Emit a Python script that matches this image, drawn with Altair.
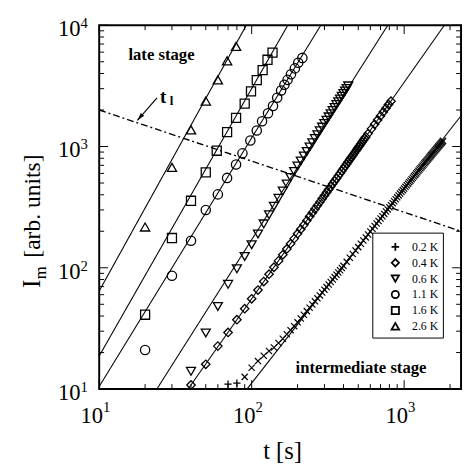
import altair as alt
import pandas as pd

W, H = 369, 371
FONT = "Liberation Serif, Times New Roman, serif"

x_domain = [10, 2361]
y_domain = [10, 10000]

# ---------------- data ----------------
s26_t = [20, 30, 40, 50, 60, 69, 79]
s26_I = [217, 673, 1371, 2372, 3546, 5090, 6700]

s16_t = [20, 30, 40, 50, 59, 69, 79, 90, 99, 108, 118, 127, 137]
s16_I = [41, 176, 357, 613, 923, 1315, 1722, 2256, 2846, 3527, 4272, 5192, 5937]

s11_t = [20, 30, 40, 50, 60, 69, 79, 87, 98, 108, 117, 128, 138, 147, 156, 164, 172, 181, 192, 202, 215]
s11_I = [21, 86, 167, 300, 403, 551, 711, 878, 1122, 1357, 1614, 1883, 2161, 2523, 2891, 3231, 3545, 3944, 4409, 4901, 5380]

s06_t = [40, 50, 60, 70, 80, 90, 100, 110, 120, 130, 140, 150, 160, 170, 180, 190, 200,
         210, 220, 230, 240, 250, 260, 270, 280, 290, 300, 310, 320, 330, 340, 350, 360,
         370, 380, 390, 400, 410, 420, 430]
s06_I = [14, 29, 48, 73, 98, 124, 155, 190, 230, 274, 322, 374, 430, 490, 556, 622, 690,
         760, 834, 910, 990, 1074, 1162, 1252, 1346, 1444, 1544, 1648, 1754, 1865, 1979, 2096, 2216,
         2340, 2466, 2598, 2732, 2870, 3010, 3160]

s04_t = [40, 50, 60, 70, 80, 90, 100, 110, 120, 130, 140, 150, 160, 170, 180, 190, 200,
         210, 220, 230, 240, 250, 260, 270, 280, 290, 300, 310, 320, 330, 340, 350, 360,
         370, 380, 390, 400, 410, 420, 430, 440, 450, 460, 470, 480, 490, 500, 510, 520,
         530, 540, 550, 560, 580, 610, 640, 670, 700, 730, 760, 790, 820]
s04_I = [10.8, 16, 22.6, 29.3, 37.3, 46, 55.5, 65.5, 77, 88.5, 101, 114, 128, 143, 158, 174, 191,
         208, 226, 245, 265, 285, 305, 326, 348, 371, 394, 418, 442, 467, 493, 519, 545,
         573, 601, 629, 658, 688, 718, 749, 781, 812, 845, 878, 912, 946, 981, 1016, 1052,
         1088, 1125, 1163, 1200, 1278, 1398, 1524, 1654, 1788, 1927, 2070, 2218, 2365]

s02_t = [70, 80, 90, 100, 110, 120, 130, 140, 150, 160, 170, 180, 190, 200, 210, 220, 230,
         240, 250, 260, 270, 280, 290, 300, 310, 320, 330, 340, 350, 360, 370, 380, 390, 400,
         420, 440, 460, 480, 500, 520, 540, 560, 580, 600, 620, 640, 660, 680, 700, 720,
         740, 760, 780, 800, 820, 840, 860, 880, 900, 920, 940, 960, 980, 1000,
         1020, 1040, 1060, 1080, 1100, 1120, 1140, 1160, 1180, 1200, 1220, 1240, 1260, 1280,
         1300, 1320, 1340, 1360, 1380, 1400, 1420, 1440, 1460, 1480, 1500, 1520, 1540, 1560,
         1580, 1600, 1620, 1640, 1660, 1680, 1700, 1720, 1740, 1760, 1780, 1800]
s02_I = [11.0, 11.2, 12.6, 15.0, 17.0, 18.8, 20.6, 22.0, 24.0, 26.0, 28.3, 30.6, 33.0, 35.5, 38.2, 41.0, 43.9,
         46.8, 49.8, 52.9, 56.0, 59.2, 62.5, 66.0, 69.3, 72.8, 76.4, 80.0, 83.8, 87.6, 91.5, 95.5, 99.6, 103.8,
         112, 121, 130, 139, 148, 158, 168, 178, 188, 199, 210, 221, 232, 243, 255, 266,
         278, 291, 303, 316, 328, 341, 354, 367, 381, 395, 409, 423, 437, 451,
         465, 479, 494, 508, 523, 538, 553, 568, 583, 599, 614, 630, 646, 662,
         678, 694, 711, 727, 744, 760, 777, 794, 811, 828, 845, 862, 879, 897,
         914, 932, 950, 967, 985, 1003, 1021, 1040, 1058, 1076, 1095, 1114]

# power-law fit lines (end points)
fit_names = ["0.2 K", "0.4 K", "0.6 K", "1.1 K", "1.6 K", "2.6 K"]
fit_t0 = [93.1, 38.3, 23.9, 10, 10, 10]
fit_I0 = [10, 10, 10, 10.5, 18.7, 64.4]
fit_t1 = [2361, 1835, 781, 284, 172.5, 92.2]
fit_I1 = [1794, 10000, 10000, 10000, 10000, 10000]

# t_l boundary line
tl_t = [10, 2361]
tl_I = [2000, 200]

# arrow of the t_l annotation (tail, tip)
arrow_t = [23.95, 17.8]
arrow_I = [2522, 1644]

# axes
x_major = [10, 100, 1000]
x_minor = [20, 30, 40, 50, 60, 70, 80, 90, 200, 300, 400, 500, 600, 700, 800, 900, 2000]
y_major = [10, 100, 1000, 10000]
y_minor = [20, 30, 40, 50, 60, 70, 80, 90, 200, 300, 400, 500, 600, 700, 800, 900,
           2000, 3000, 4000, 5000, 6000, 7000, 8000, 9000]
x_lab_v = [10, 100, 1000]
x_lab_e = ["1", "2", "3"]
y_lab_v = [10, 100, 1000, 10000]
y_lab_e = ["1", "2", "3", "4"]

PLUS = "M-1,0L1,0M0,-1L0,1"
CROSS = "M-1,-1L1,1M-1,1L1,-1"
legend_labels = ["0.2 K", "0.4 K", "0.6 K", "1.1 K", "1.6 K", "2.6 K"]
legend_shapes = [PLUS, "diamond", "triangle-down", "circle", "square", "triangle-up"]
legend_sizes = [60, 55, 55, 55, 55, 60]

# ---------------- chart ----------------
xs = alt.Scale(type="log", domain=x_domain, nice=False)
ys = alt.Scale(type="log", domain=y_domain, nice=False)


def X(f="t"):
    return alt.X(f"{f}:Q", scale=xs, axis=None)


def Y(f="I"):
    return alt.Y(f"{f}:Q", scale=ys, axis=None)


one = alt.Data(values=[{}])
layers = []

# fit lines
fit_rows = []
for n, a, b, c, d in zip(fit_names, fit_t0, fit_I0, fit_t1, fit_I1):
    fit_rows.append({"s": n, "t": a, "I": b})
    fit_rows.append({"s": n, "t": c, "I": d})
layers.append(alt.Chart(pd.DataFrame(fit_rows)).mark_line(color="black", strokeWidth=1.1).encode(
    x=X(), y=Y(), detail="s:N"))

# t_l line
layers.append(alt.Chart(pd.DataFrame({"t": tl_t, "I": tl_I})).mark_line(
    color="black", strokeWidth=1.4, strokeDash=[7, 3, 2, 3]).encode(x=X(), y=Y()))


def pts(t, I, shape, size, sw=1.3):
    return alt.Chart(pd.DataFrame({"t": t, "I": I})).mark_point(
        shape=shape, filled=False, size=size, color="black", strokeWidth=sw, opacity=1
    ).encode(x=X(), y=Y())


layers.append(pts(s02_t[:2], s02_I[:2], PLUS, 55))
layers.append(pts(s02_t[2:], s02_I[2:], CROSS, 40, 1.2))
layers.append(pts(s04_t, s04_I, "diamond", 75))
layers.append(pts(s06_t, s06_I, "triangle-down", 85))
layers.append(pts(s11_t, s11_I, "circle", 90))
layers.append(pts(s16_t, s16_I, "square", 85))
layers.append(pts(s26_t, s26_I, "triangle-up", 90))

# ticks (inward)
def xticks(vals, length):
    d = pd.DataFrame({"v": vals})
    return [
        alt.Chart(d).mark_rule(color="black", strokeWidth=1).encode(x=X("v"), y=alt.value(H), y2=alt.value(H - length)),
        alt.Chart(d).mark_rule(color="black", strokeWidth=1).encode(x=X("v"), y=alt.value(0), y2=alt.value(length)),
    ]


def yticks(vals, length):
    d = pd.DataFrame({"v": vals})
    return [
        alt.Chart(d).mark_rule(color="black", strokeWidth=1).encode(y=Y("v"), x=alt.value(0), x2=alt.value(length)),
        alt.Chart(d).mark_rule(color="black", strokeWidth=1).encode(y=Y("v"), x=alt.value(W), x2=alt.value(W - length)),
    ]


layers += xticks(x_major, 9) + xticks(x_minor, 5) + yticks(y_major, 9) + yticks(y_minor, 5)

# tick labels 10^n
xl = pd.DataFrame({"v": x_lab_v, "e": x_lab_e})
layers.append(alt.Chart(xl).mark_text(text="10", align="right", baseline="alphabetic", font=FONT,
                                      fontSize=23, dx=4, color="black").encode(x=X("v"), y=alt.value(H + 35)))
layers.append(alt.Chart(xl).mark_text(align="left", baseline="alphabetic", font=FONT,
                                      fontSize=15, dx=4, color="black").encode(x=X("v"), y=alt.value(H + 23), text="e:N"))
yl = pd.DataFrame({"v": y_lab_v, "e": y_lab_e})
layers.append(alt.Chart(yl).mark_text(text="10", align="right", baseline="alphabetic", font=FONT,
                                      fontSize=23, dy=11, color="black").encode(y=Y("v"), x=alt.value(-19)))
layers.append(alt.Chart(yl).mark_text(align="left", baseline="alphabetic", font=FONT,
                                      fontSize=15, dy=3, color="black").encode(y=Y("v"), x=alt.value(-19), text="e:N"))

# axis titles
def txt(s, x, y, size, **kw):
    return alt.Chart(one).mark_text(text=s, font=FONT, fontSize=size, color="black", **kw).encode(
        x=alt.value(x), y=alt.value(y))


layers.append(txt("t [s]", 187, 442, 25, align="center", baseline="alphabetic"))
layers.append(txt("I", -60, 268, 26, align="left", baseline="alphabetic", angle=270))
layers.append(txt("m", -54, 259, 17, align="left", baseline="alphabetic", angle=270))
layers.append(txt("[arb. units]", -60, 237, 24, align="left", baseline="alphabetic", angle=270))

# annotations
layers.append(txt("late stage", 63.5, 35.5, 17, align="center", baseline="alphabetic", fontWeight="bold"))
layers.append(txt("intermediate stage", 267, 355, 17, align="center", baseline="alphabetic", fontWeight="bold"))
layers.append(txt("t", 62, 79, 19, align="left", baseline="alphabetic", fontWeight="bold"))
layers.append(txt("l", 72, 81, 13, align="left", baseline="alphabetic", fontWeight="bold"))
adf = pd.DataFrame({"t": arrow_t, "I": arrow_I})
layers.append(alt.Chart(adf).mark_line(color="black", strokeWidth=1.2).encode(x=X(), y=Y()))
layers.append(alt.Chart(adf.iloc[[1]]).mark_point(
    shape="M0,0L-0.45,1.6L0.45,1.6Z", filled=True, size=100, color="black", opacity=1, angle=221
).encode(x=X(), y=Y()))

# legend
layers.append(alt.Chart(one).mark_rect(fill="white", stroke="black", strokeWidth=1).encode(
    x=alt.value(279), x2=alt.value(351), y=alt.value(212), y2=alt.value(319)))
for i, (lab, shp, sz) in enumerate(zip(legend_labels, legend_shapes, legend_sizes)):
    yy = 226 + 16.2 * i
    layers.append(alt.Chart(one).mark_point(shape=shp, filled=False, size=sz, color="black",
                                            strokeWidth=1.8, opacity=1).encode(
        x=alt.value(302), y=alt.value(yy)))
    layers.append(txt(lab, 319, yy, 12, align="left", baseline="middle"))

chart = alt.layer(*layers).properties(
    width=W, height=H,
    padding={"left": 93, "top": 13, "right": 2, "bottom": 80},
    autosize=alt.AutoSizeParams(type="none"),
    background="white",
).configure_view(stroke="black", strokeWidth=2)

chart.save("out.html", embed_options={"renderer": "svg", "actions": False})
